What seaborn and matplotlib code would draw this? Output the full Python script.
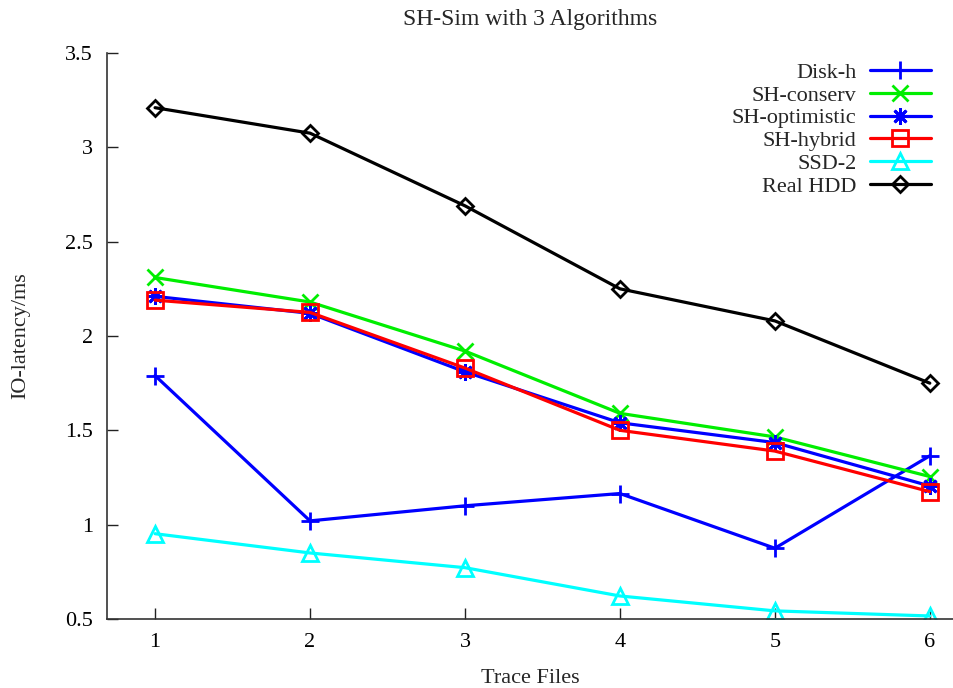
import matplotlib
matplotlib.use("Agg")
import matplotlib.pyplot as plt
import seaborn as sns
import pandas as pd
from matplotlib.ticker import FuncFormatter

trace_files = [1, 2, 3, 4, 5, 6]
disk_h = [1.79, 1.02, 1.10, 1.165, 0.875, 1.365]
sh_conserv = [2.31, 2.18, 1.92, 1.59, 1.465, 1.255]
sh_optimistic = [2.21, 2.12, 1.81, 1.54, 1.435, 1.205]
sh_hybrid = [2.19, 2.125, 1.83, 1.50, 1.39, 1.175]
ssd_2 = [0.952, 0.85, 0.772, 0.622, 0.543, 0.516]
real_hdd = [3.21, 3.075, 2.69, 2.25, 2.08, 1.75]

series_names = ["Disk-h", "SH-conserv", "SH-optimistic", "SH-hybrid", "SSD-2", "Real HDD"]
series_values = [disk_h, sh_conserv, sh_optimistic, sh_hybrid, ssd_2, real_hdd]
colors = ["#0000ff", "#00ee00", "#0000ff", "#ff0000", "#00ffff", "#000000"]
markers = ["+", "x", (8, 2, 0), "s", "^", "D"]
msizes = [13, 11, 12, 11, 11, 8]
open_face = [False, False, False, True, True, True]

sns.set_style("ticks")
plt.rcParams["font.family"] = ["Liberation Serif", "DejaVu Serif"]
plt.rcParams["font.size"] = 16

fig = plt.figure(figsize=(9.54, 6.88), dpi=100)
ax = fig.add_axes([0.1122, 0.1003, 0.8868, 0.8227])

for name, vals, c, m, ms, of in zip(series_names, series_values, colors, markers, msizes, open_face):
    df = pd.DataFrame({"Trace Files": trace_files, "IO-latency/ms": vals})
    kw = dict(color=c, marker=m, markersize=ms, markeredgecolor=c, markeredgewidth=2,
              linewidth=2.3, label=name)
    if of:
        kw["markerfacecolor"] = "none"
    sns.lineplot(data=df, x="Trace Files", y="IO-latency/ms", ax=ax, **kw)

ax.set_xlim(0.69, 6.15)
ax.set_ylim(0.5, 3.5)
ax.set_xticks(trace_files)
ax.set_yticks([0.5, 1, 1.5, 2, 2.5, 3, 3.5])
ax.yaxis.set_major_formatter(FuncFormatter(lambda v, p: "%g" % v))
ax.tick_params(direction="in", length=8, width=1, colors="#222222", labelcolor="black",
               labelsize=16, pad=10)
sns.despine(ax=ax)
for s in ["left", "bottom"]:
    ax.spines[s].set_linewidth(1.2)
    ax.spines[s].set_color("#333333")

ax.set_xlabel("Trace Files", fontsize=16, labelpad=12)
ax.set_ylabel("IO-latency/ms", fontsize=16, labelpad=25)
ax.set_title("SH-Sim with 3 Algorithms", fontsize=17, pad=20)

leg = ax.legend(loc="upper right", frameon=False, markerfirst=False, fontsize=16,
                handlelength=2.75, labelspacing=0.1, handletextpad=0.6,
                bbox_to_anchor=(0.992, 1.011), borderaxespad=0.3)
for col in leg._legend_box.get_children()[1].get_children():
    col.align = "right"

fig.savefig("out.png", dpi=100)
